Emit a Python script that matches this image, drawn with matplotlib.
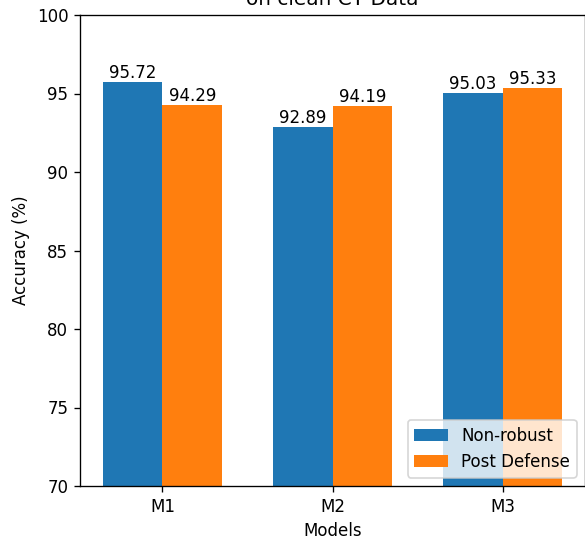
import numpy as np
import matplotlib
matplotlib.use("Agg")
import matplotlib.pyplot as plt

models = ['M1', 'M2', 'M3']
non_robust = [95.72, 92.89, 95.03]
post_defense = [94.29, 94.19, 95.33]

x = np.arange(len(models))
width = 0.35

# the reference is rendered a bit larger, so draw at dpi 120
fig = plt.figure(figsize=(585/120, 539/120), dpi=120)
ax = fig.add_axes([80/585, 53/539, 505/585, 471/539])

bars1 = ax.bar(x - width/2, non_robust, width, label='Non-robust')
bars2 = ax.bar(x + width/2, post_defense, width, label='Post Defense')

ax.bar_label(bars1, labels=[f"{v:.2f}" for v in non_robust])
ax.bar_label(bars2, labels=[f"{v:.2f}" for v in post_defense])

ax.set_ylim(70, 100)
ax.set_xticks(x)
ax.set_xticklabels(models)
ax.set_xlabel('Models')
ax.set_ylabel('Accuracy (%)')
ax.set_title('Accuracy of Non-robust vs Post Defense Models\non clean CT Data')
ax.legend(loc='lower right')

fig.savefig('out.png', dpi=120)
